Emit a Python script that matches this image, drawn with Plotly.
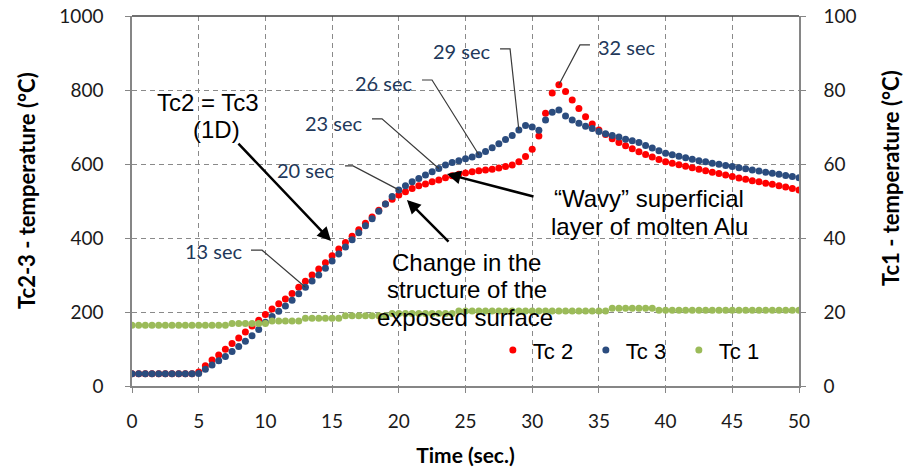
import plotly.graph_objects as go

TIME = [0, 0.5, 1, 1.5, 2, 2.5, 3, 3.5, 4, 4.5,
        5, 5.5, 6, 6.5, 7, 7.5, 8, 8.5, 9, 9.5,
        10, 10.5, 11, 11.5, 12, 12.5, 13, 13.5, 14, 14.5,
        15, 15.5, 16, 16.5, 17, 17.5, 18, 18.5, 19, 19.5,
        20, 20.5, 21, 21.5, 22, 22.5, 23, 23.5, 24, 24.5,
        25, 25.5, 26, 26.5, 27, 27.5, 28, 28.5, 29, 29.5,
        30, 30.5, 31, 31.5, 32, 32.5, 33, 33.5, 34, 34.5,
        35, 35.5, 36, 36.5, 37, 37.5, 38, 38.5, 39, 39.5,
        40, 40.5, 41, 41.5, 42, 42.5, 43, 43.5, 44, 44.5,
        45, 45.5, 46, 46.5, 47, 47.5, 48, 48.5, 49, 49.5, 50]

TC2 = [33, 33, 33, 33, 33, 33, 33, 33, 33, 33,
       38, 55, 70, 84, 99, 115, 130, 146, 162, 178,
       193, 208, 222, 235, 250, 267, 283, 300, 316, 333,
       352, 370, 388, 405, 422, 440, 457, 475, 492, 505,
       516, 525, 534, 541, 546, 552, 557, 563, 568, 572,
       576, 579, 582, 584, 586, 589, 593, 597, 606, 620,
       640, 676, 737, 792, 814, 796, 773, 750, 728, 708,
       692, 680, 668, 658, 649, 641, 633, 626, 619, 612,
       606, 602, 598, 594, 590, 586, 582, 578, 574, 570,
       566, 562, 559, 555, 552, 548, 545, 541, 538, 534, 530]

TC3 = [33, 33, 33, 33, 33, 33, 33, 33, 33, 33,
       34, 45, 57, 68, 80, 93, 107, 121, 136, 153,
       172, 188, 202, 216, 232, 249, 267, 284, 300, 318,
       338, 357, 376, 395, 414, 433, 452, 472, 492, 512,
       530, 541, 552, 561, 570, 579, 588, 597, 604, 609,
       614, 619, 625, 634, 644, 655, 666, 677, 692, 704,
       700, 691, 719, 740, 746, 730, 719, 710, 702, 696,
       688, 682, 677, 673, 667, 663, 658, 650, 643, 636,
       629, 625, 621, 617, 613, 609, 606, 602, 599, 596,
       593, 590, 587, 584, 581, 578, 575, 572, 569, 566, 563]

TC1 = [16.4, 16.4, 16.4, 16.4, 16.4, 16.4, 16.4, 16.4, 16.4, 16.4,
       16.4, 16.4, 16.4, 16.4, 16.4, 16.9, 16.9, 16.9, 16.9, 16.9,
       16.9, 17.6, 17.6, 17.6, 17.6, 17.6, 18.3, 18.3, 18.3, 18.3,
       18.3, 18.3, 19.0, 19.0, 19.0, 19.0, 19.0, 19.0, 19.0, 19.6,
       19.6, 19.6, 19.6, 19.6, 19.6, 19.6, 19.6, 19.6, 19.6, 20.3,
       20.3, 20.3, 20.3, 20.3, 20.3, 20.3, 20.3, 20.3, 20.3, 20.3,
       20.3, 20.3, 20.3, 20.3, 20.3, 20.3, 20.3, 20.3, 20.3, 20.3,
       20.3, 20.3, 21.0, 21.0, 21.0, 21.0, 21.0, 21.0, 21.0, 20.5,
       20.5, 20.5, 20.5, 20.5, 20.5, 20.5, 20.5, 20.5, 20.5, 20.5,
       20.5, 20.5, 20.5, 20.5, 20.5, 20.5, 20.5, 20.5, 20.5, 20.5, 20.5]

X_TICKS = [0, 5, 10, 15, 20, 25, 30, 35, 40, 45, 50]
Y_LEFT_TICKS = [0, 200, 400, 600, 800, 1000]
Y_RIGHT_TICKS = [0, 20, 40, 60, 80, 100]

# data labels: (time, series, text, label anchor x, label y, elbow x0, elbow x1, elbow y, side)
LABELS = [
    (13, "Tc3", "13 sec", 8.47, 365, 8.92, 9.75, 367, "right"),
    (20, "Tc3", "20 sec", 15.37, 584, 15.97, 16.57, 595, "right"),
    (23, "Tc3", "23 sec", 17.47, 711, 17.99, 18.74, 722, "right"),
    (26, "Tc3", "26 sec", 21.2, 819, 21.74, 22.49, 827, "right"),
    (29, "Tc3", "29 sec", 27.06, 905, 27.59, 28.34, 911, "right"),
    (32, "Tc2", "32 sec", 34.78, 916, 34.33, 33.58, 922, "left"),
]

# explanatory text lines: (text, x, y)
TEXT_LINES = [
    ("Tc2 = Tc3", 5.70, 765),
    ("(1D)", 6.30, 692),
    ("Change in the", 25.04, 335),
    ("structure of the", 25.11, 262),
    ("exposed surface", 24.96, 186),
    ("\u201cWavy\u201d superficial", 38.76, 508),
    ("layer of molten Alu", 38.83, 432),
]

# arrows: (tail x, tail y, head x, head y)
ARROWS = [(7.87, 659, 14.92, 392), (23.84, 386, 20.61, 503), (30.21, 511, 23.61, 573)]

TICK_FONT = dict(family="Lato", size=19, color="#1a1a1a")
TEXT_FONT = dict(family="Liberation Sans", size=24, color="#000000")
GRID = "#8a8a8a"
AXIS = "#868686"

fig = go.Figure()
fig.add_trace(go.Scatter(x=TIME, y=TC2, mode="markers", name="Tc 2",
                         marker=dict(color="#FF0000", size=7)))
fig.add_trace(go.Scatter(x=TIME, y=TC3, mode="markers", name="Tc 3",
                         marker=dict(color="#2B4C7E", size=7)))
fig.add_trace(go.Scatter(x=TIME, y=TC1, mode="markers", name="Tc 1",
                         marker=dict(color="#9BBB59", size=7), yaxis="y2"))

annotations = []
shapes = []
series = {"Tc2": TC2, "Tc3": TC3}
for t, s, txt, lx, ly, ex0, ex1, ey, side in LABELS:
    yv = series[s][TIME.index(t)]
    annotations.append(dict(x=lx, y=ly, xref="x", yref="y", text=txt,
                            showarrow=False, xanchor=side, yanchor="middle",
                            font=dict(family="Lato", size=20, color="#22385a")))
    shapes.append(dict(type="path", xref="x", yref="y",
                       path=f"M {ex0},{ey} L {ex1},{ey} L {t},{yv}",
                       line=dict(color="#3a3a3a", width=1.2)))

for txt, x, y in TEXT_LINES:
    annotations.append(dict(x=x, y=y, xref="x", yref="y", text=txt, showarrow=False,
                            font=TEXT_FONT, xanchor="center", yanchor="middle"))

for (tx, ty, hx, hy) in ARROWS:
    annotations.append(dict(x=hx, y=hy, ax=tx, ay=ty, xref="x", yref="y", axref="x", ayref="y",
                            text="", showarrow=True, arrowhead=2, arrowsize=1.1,
                            arrowwidth=2.5, arrowcolor="#000000", standoff=0))

# y-axis titles
annotations.append(dict(x=(26 - 132) / 667, y=0.527, xref="paper", yref="paper",
                        xanchor="center", yanchor="middle",
                        text="<b>Tc2-3 - temperature (°C)</b>", textangle=-90,
                        showarrow=False, font=dict(family="Lato", size=22, color="#000000")))
annotations.append(dict(x=(890 - 132) / 667, y=0.562, xref="paper", yref="paper",
                        xanchor="center", yanchor="middle",
                        text="<b>Tc1 - temperature (°C)</b>", textangle=-90,
                        showarrow=False, font=dict(family="Lato", size=22, color="#000000")))

shapes.append(dict(type="line", xref="paper", yref="paper", x0=0, x1=1, y0=1, y1=1,
                   line=dict(color="#404040", width=1.5)))

fig.update_layout(
    width=906, height=468,
    margin=dict(l=132, r=107, t=16, b=82),
    paper_bgcolor="white", plot_bgcolor="white",
    showlegend=True,
    legend=dict(orientation="h", x=0.541, y=0.097, xanchor="left", yanchor="middle",
                font=dict(family="Liberation Sans", size=22, color="#000000"),
                bgcolor="rgba(0,0,0,0)", itemwidth=30, entrywidth=48, entrywidthmode="pixels"),
    xaxis=dict(range=[0, 50], tickvals=X_TICKS, ticktext=[str(v) for v in X_TICKS],
               automargin=False,
               showgrid=True, gridcolor=GRID, griddash="5px,4px", gridwidth=1,
               showline=True, linecolor=AXIS, linewidth=1.5, zeroline=False,
               ticks="outside", ticklen=5, tickcolor=AXIS, tickfont=TICK_FONT,
               ticklabelstandoff=12,
               title=dict(text="<b>Time (sec.)</b>", standoff=18,
                          font=dict(family="Lato", size=21, color="#000000"))),
    yaxis=dict(range=[0, 1000], tickvals=Y_LEFT_TICKS, ticktext=[str(v) for v in Y_LEFT_TICKS],
               automargin=False,
               showgrid=True, gridcolor=GRID, griddash="5px,4px", gridwidth=1,
               showline=True, linecolor=AXIS, linewidth=1.5, zeroline=False,
               ticks="outside", ticklen=5, tickcolor=AXIS, tickfont=TICK_FONT,
               ticklabelstandoff=18),
    yaxis2=dict(range=[0, 100], tickvals=Y_RIGHT_TICKS, ticktext=[str(v) for v in Y_RIGHT_TICKS],
                automargin=False,
                overlaying="y", side="right", showgrid=False,
                showline=True, linecolor=AXIS, linewidth=1.5, zeroline=False,
                ticks="outside", ticklen=5, tickcolor=AXIS, tickfont=TICK_FONT,
                ticklabelstandoff=14),
    annotations=annotations,
    shapes=shapes,
)

fig.write_html("out.html")
